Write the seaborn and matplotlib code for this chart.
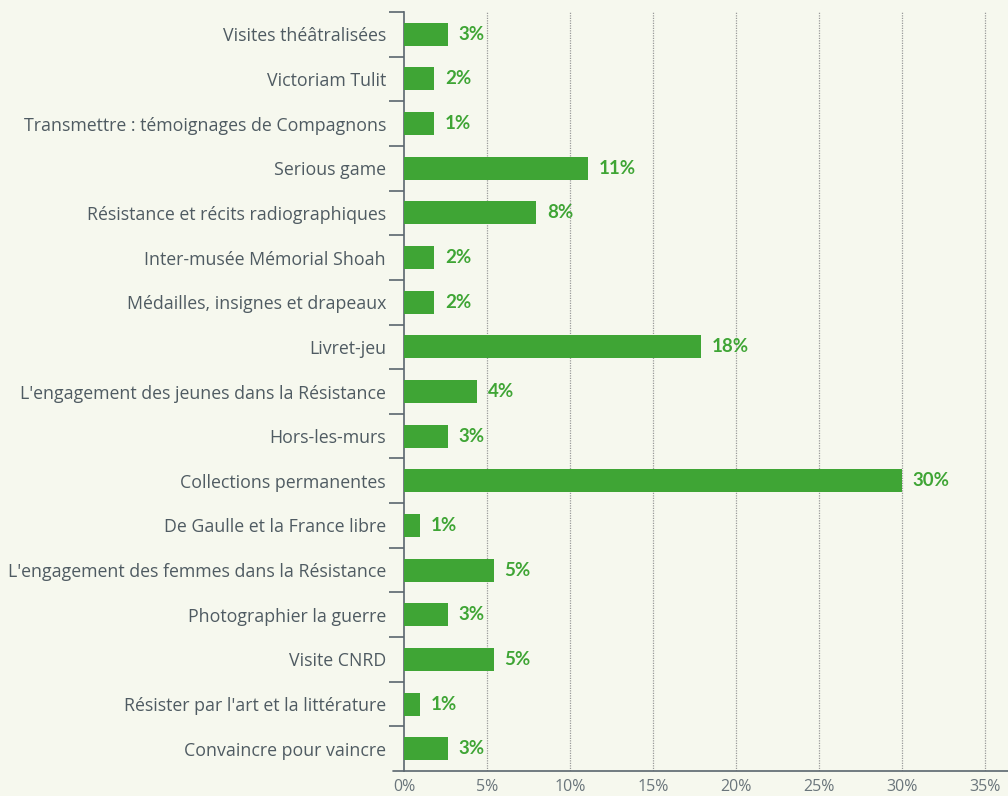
import matplotlib
matplotlib.use("Agg")
import matplotlib.pyplot as plt
import seaborn as sns
import pandas as pd
import numpy as np
from matplotlib.ticker import FixedLocator

categories = [
    "Visites théâtralisées",
    "Victoriam Tulit",
    "Transmettre : témoignages de Compagnons",
    "Serious game",
    "Résistance et récits radiographiques",
    "Inter-musée Mémorial Shoah",
    "Médailles, insignes et drapeaux",
    "Livret-jeu",
    "L'engagement des jeunes dans la Résistance",
    "Hors-les-murs",
    "Collections permanentes",
    "De Gaulle et la France libre",
    "L'engagement des femmes dans la Résistance",
    "Photographier la guerre",
    "Visite CNRD",
    "Résister par l'art et la littérature",
    "Convaincre pour vaincre",
]
values = [2.65, 1.8, 1.8, 11.1, 7.95, 1.8, 1.8, 17.9, 4.4, 2.65, 30.0, 0.95, 5.4, 2.65, 5.4, 0.95, 2.65]
value_labels = ["3%", "2%", "1%", "11%", "8%", "2%", "2%", "18%", "4%", "3%", "30%", "1%", "5%", "3%", "5%", "1%", "3%"]
xticks = [0, 5, 10, 15, 20, 25, 30, 35]
xtick_labels = ["0%", "5%", "10%", "15%", "20%", "25%", "30%", "35%"]

BG = "#f6f8ee"
GREEN = "#3fa535"
AXC = "#5b666e"
TXT = "#4f5b62"

sns.set_theme(style="white")
plt.rcParams['font.family'] = ['Open Sans', 'DejaVu Sans']

df = pd.DataFrame({"cat": categories, "val": values})

fig = plt.figure(figsize=(10.08, 7.96), dpi=100, facecolor=BG)
ax = fig.add_axes([404/1008, (796-771)/796, 1 - 404/1008, (771-12)/796])
ax.set_facecolor(BG)

sns.barplot(data=df, x="val", y="cat", orient="h", color=GREEN, width=0.515,
            saturation=1, linewidth=0, ax=ax, zorder=3)

for i, (v, lab) in enumerate(zip(values, value_labels)):
    ax.text(v + 0.66, i, lab, va="center", ha="left", color=GREEN,
            fontsize=13.5, fontweight="bold", family=["Lato", "DejaVu Sans"], zorder=4)

ax.set_xlim(0, 36.4)
ax.set_ylim(len(categories) - 0.5, -0.5)
ax.set_xticks(xticks)
ax.set_xticklabels(xtick_labels, color="#6a757b", fontsize=11.5)
ax.tick_params(axis="x", length=0, pad=6)
ax.tick_params(axis="y", which="major", left=False, length=0, pad=13, labelsize=12.8, labelcolor=TXT)
ax.yaxis.set_minor_locator(FixedLocator(np.arange(-0.5, len(categories) - 1, 1.0)))
ax.tick_params(axis="y", which="minor", left=True, length=11, width=1.2, color=AXC)
ax.set_xlabel("")
ax.set_ylabel("")

for x in xticks[1:]:
    ax.axvline(x, color="#9a9a9a", linestyle=(0, (1, 1)), linewidth=0.9, zorder=1)

for s in ["top", "right", "bottom"]:
    ax.spines[s].set_visible(False)
ax.spines["left"].set_color(AXC)
ax.spines["left"].set_linewidth(1.2)
ax.plot([-0.019, 1], [0, 0], transform=ax.transAxes, color=AXC, lw=1.2, clip_on=False, zorder=5)

fig.savefig("out.png", dpi=100, facecolor=BG)
